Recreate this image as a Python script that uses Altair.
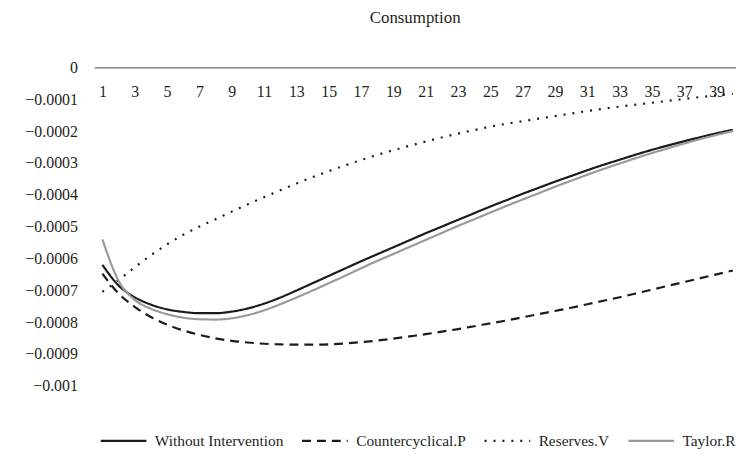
import altair as alt
import pandas as pd

periods = list(range(1, 41))
series_names = ["Without Intervention", "Countercyclical.P", "Reserves.V", "Taylor.R"]

without = [-0.00062, -0.000685, -0.000722, -0.000745, -0.00076, -0.000768, -0.000772, -0.000772, -0.000767, -0.000757,
           -0.000742, -0.000723, -0.000701, -0.000678, -0.000655, -0.000632, -0.000609, -0.000587, -0.000565, -0.000543,
           -0.000521, -0.0005, -0.000479, -0.000458, -0.000437, -0.000417, -0.000397, -0.000378, -0.000359, -0.000341,
           -0.000323, -0.000306, -0.00029, -0.000274, -0.000259, -0.000245, -0.000232, -0.000219, -0.000207, -0.000196]
counter = [-0.000648, -0.00071, -0.000752, -0.000784, -0.000808, -0.000826, -0.00084, -0.000851, -0.000859, -0.000864,
           -0.000868, -0.00087, -0.000871, -0.000871, -0.00087, -0.000867, -0.000863, -0.000858, -0.000852, -0.000845,
           -0.000838, -0.00083, -0.000822, -0.000813, -0.000804, -0.000795, -0.000785, -0.000775, -0.000765, -0.000755,
           -0.000744, -0.000733, -0.000722, -0.00071, -0.000698, -0.000686, -0.000674, -0.000662, -0.00065, -0.000638]
reserves = [-0.000705, -0.000668, -0.000628, -0.00059, -0.000556, -0.000526, -0.0005, -0.000477, -0.000453, -0.00043,
            -0.000408, -0.000386, -0.000365, -0.000345, -0.000326, -0.000308, -0.000291, -0.000275, -0.00026, -0.000246,
            -0.000233, -0.00022, -0.000208, -0.000197, -0.000186, -0.000177, -0.000169, -0.000161, -0.000153, -0.000145,
            -0.000137, -0.00013, -0.000123, -0.000117, -0.000111, -0.000105, -0.000099, -0.000093, -0.000088, -0.000083]
taylor = [-0.00054, -0.00067, -0.00073, -0.000758, -0.000775, -0.000786, -0.000791, -0.000792, -0.000788, -0.000778,
          -0.000763, -0.000744, -0.000723, -0.000701, -0.000678, -0.000655, -0.000631, -0.000608, -0.000586, -0.000564,
          -0.000542, -0.00052, -0.000498, -0.000477, -0.000456, -0.000435, -0.000415, -0.000395, -0.000375, -0.000356,
          -0.000337, -0.000319, -0.000302, -0.000285, -0.000269, -0.000254, -0.000239, -0.000225, -0.000212, -0.0002]

x_ticks = list(range(1, 40, 2))
y_ticks = [0, -0.0001, -0.0002, -0.0003, -0.0004, -0.0005, -0.0006, -0.0007, -0.0008, -0.0009, -0.001]

rows = []
for name, vals in zip(series_names, [without, counter, reserves, taylor]):
    for p, v in zip(periods, vals):
        rows.append({"period": p, "value": v, "series": name})
df = pd.DataFrame(rows)

FONT = "Liberation Serif"
TXT = "#231f20"
W, H = 647, 321

leg = alt.Legend(
    title=None, orient="none", legendX=5, legendY=352, direction="horizontal",
    symbolType="stroke", symbolSize=2116, labelFont=FONT, labelFontSize=15.5,
    labelColor=TXT, columnPadding=14, labelOffset=7,
)

chart = alt.Chart(df).mark_line(interpolate="monotone", strokeJoin="round").encode(
    x=alt.X("period:Q",
            scale=alt.Scale(domain=[0.5, 40.2], nice=False, zero=False),
            axis=alt.Axis(values=x_ticks, orient="bottom", offset=-H, title=None, grid=False,
                          ticks=False, domain=True, domainColor="#6b6b6b", domainWidth=1.3,
                          labelPadding=16, labelFont=FONT, labelFontSize=16, labelColor=TXT,
                          labelFlush=False)),
    y=alt.Y("value:Q",
            scale=alt.Scale(domain=[-0.001, 0], nice=False, zero=False),
            axis=alt.Axis(values=y_ticks, format=".4~f", grid=False, ticks=False, domain=False,
                          title=None, labelPadding=17, labelFont=FONT, labelFontSize=16,
                          labelColor=TXT)),
    color=alt.Color("series:N",
                    scale=alt.Scale(domain=series_names, range=["#1b1b1b", "#1b1b1b", "#1b1b1b", "#9a9a9a"]),
                    legend=leg),
    strokeDash=alt.StrokeDash("series:N",
                              scale=alt.Scale(domain=series_names, range=[[1, 0], [9, 6], [2, 7], [1, 0]]),
                              legend=leg),
    strokeWidth=alt.StrokeWidth("series:N",
                                scale=alt.Scale(domain=series_names, range=[2.2, 2.2, 3, 2.2]),
                                legend=leg),
).properties(
    width=W, height=H,
    title=alt.Title("Consumption", font=FONT, fontSize=17, fontWeight="normal", color=TXT, offset=33),
    autosize=alt.AutoSizeParams(type="none"),
    padding={"left": 87, "top": 58, "right": 0, "bottom": 80},
).configure(background="white").configure_view(stroke=None, strokeWidth=0)

chart.save("out.html", embed_options={"renderer": "svg", "actions": False})
